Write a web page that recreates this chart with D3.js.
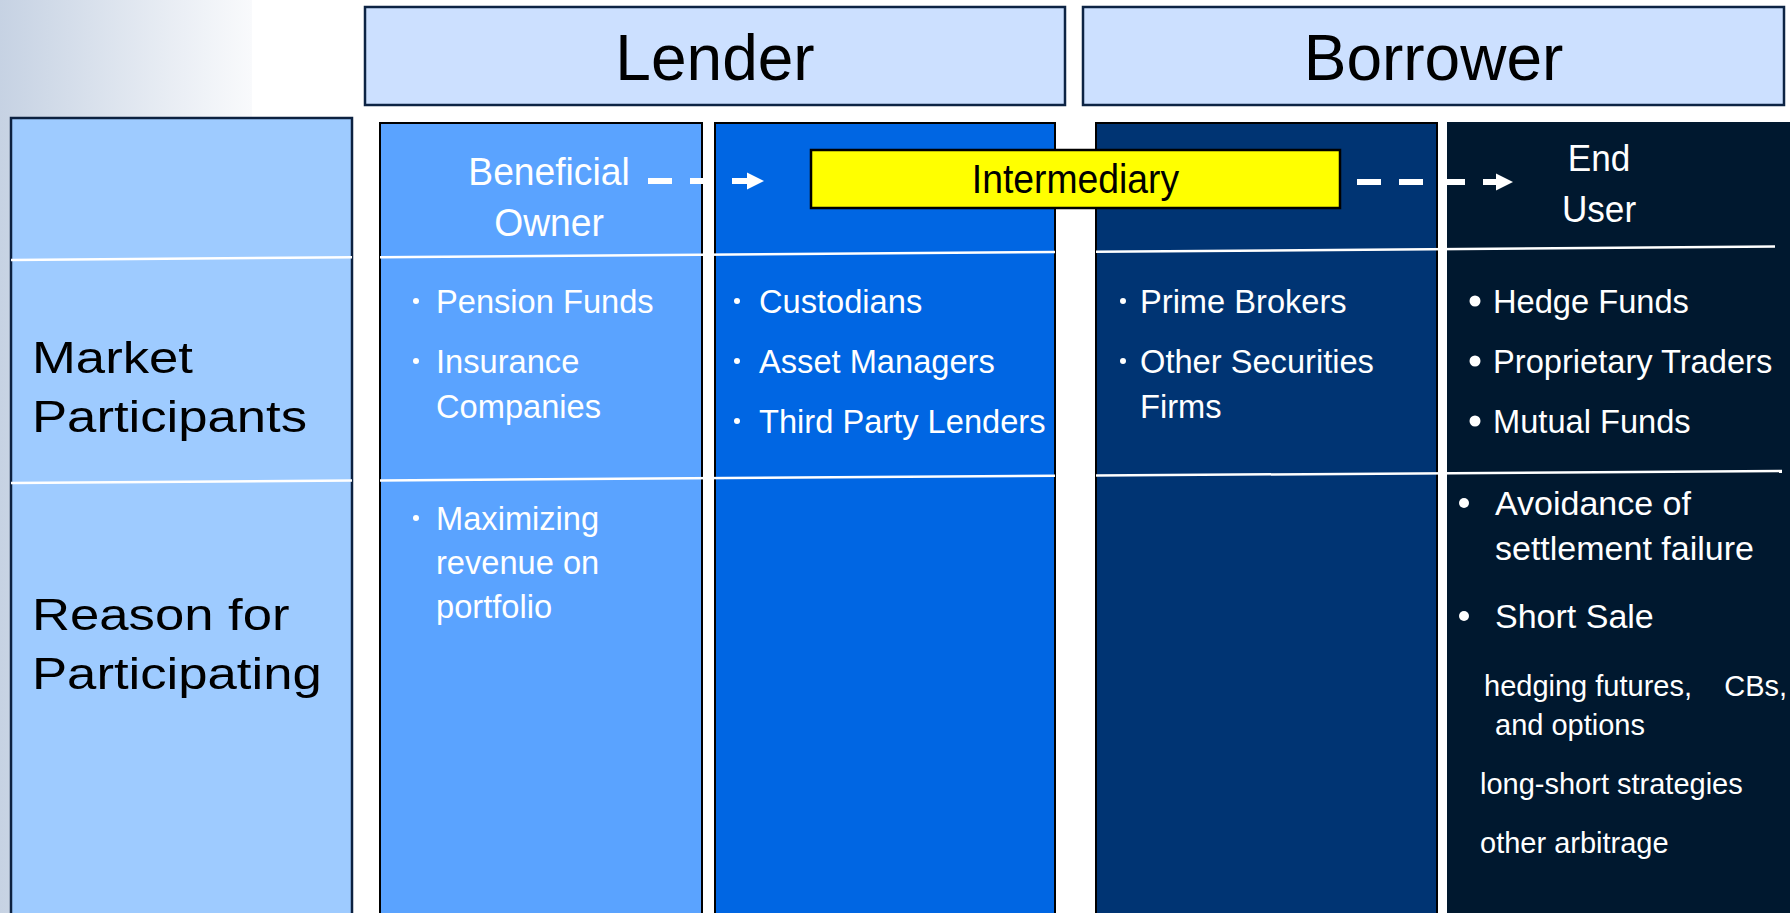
<!DOCTYPE html>
<html>
<head>
<meta charset="utf-8">
<script src="https://cdn.jsdelivr.net/npm/d3@7"></script>
<style>
  body { margin: 0; background: #fff; }
  svg { display: block; font-family: 'Liberation Sans', Arial, sans-serif; }
  text { white-space: pre; }
</style>
</head>
<body>
<div id="chart"></div>
<script>
// content of the slide
const groups = ['Lender', 'Borrower']
const rowKeys = ['head', 'market', 'reason', 'end']
const rowLabels = [['Market', 'Participants'], ['Reason for', 'Participating']]
const columnKeys = ['owner', 'intermediary', 'broker', 'endUser']
const columnTitles = [['Beneficial', 'Owner'], [], [], ['End', 'User']]
const intermediaryLabel = 'Intermediary'
const participants = [
  [['Pension Funds'], ['Insurance', 'Companies']],
  [['Custodians'], ['Asset Managers'], ['Third Party Lenders']],
  [['Prime Brokers'], ['Other Securities', 'Firms']],
  [['Hedge Funds'], ['Proprietary Traders'], ['Mutual Funds']]
]
const reasons = [
  [['Maximizing', 'revenue on', 'portfolio']],
  [],
  [],
  [['Avoidance of', 'settlement failure'], ['Short Sale']]
]
const shortSaleUses = [['hedging futures,    CBs,', 'and options'], ['long-short strategies'], ['other arbitrage']]

const fills = ['#5aa3ff', '#0066e3', '#003473', '#00182f']

const width = 1790
const height = 913

const svg = d3.select('#chart')
  .append('svg')
  .attr('width', width)
  .attr('height', height)

// layout scales
const groupX = d3.scaleOrdinal().domain(groups).range([365, 1083])
const groupW = d3.scaleOrdinal().domain(groups).range([700, 701])
const colX = d3.scaleOrdinal().domain(columnKeys).range([380, 715, 1096, 1448])
const colW = d3.scaleOrdinal().domain(columnKeys).range([322, 340, 341, 345])
const rowY = d3.scaleOrdinal().domain(rowKeys).range([123, 258, 481, 913])
// divider lines are slightly tilted on the original slide
const tilt = d3.scaleLinear().domain([0, width]).range([0, -13.5])

const defs = svg.append('defs')
const grad = defs.append('linearGradient').attr('id', 'bg').attr('x1', 0).attr('x2', 1).attr('y1', 0).attr('y2', 0)
grad.append('stop').attr('offset', 0).attr('stop-color', '#c6d2e3')
grad.append('stop').attr('offset', 1).attr('stop-color', '#f9fafc')

svg.append('rect').attr('x', 0).attr('y', 0).attr('width', 252).attr('height', height).attr('fill', 'url(#bg)')

const addText = (sel, { x, y, text, size, sx = 1, fill = '#fff', anchor = 'start' }) =>
  sel.append('text')
    .attr('transform', `translate(${x},${y}) scale(${sx},1)`)
    .attr('font-size', size)
    .attr('fill', fill)
    .attr('text-anchor', anchor)
    .text(text)

// row label box
svg.append('rect')
  .attr('x', 11).attr('y', 118)
  .attr('width', 341).attr('height', height - 118 + 5)
  .attr('fill', '#9ecbff')
  .attr('stroke', '#0c2140')
  .attr('stroke-width', 2.5)

// group headers
svg.selectAll('.group')
  .data(groups)
  .enter()
  .append('rect')
  .attr('class', 'group')
  .attr('x', (d) => groupX(d))
  .attr('y', 7)
  .attr('width', (d) => groupW(d))
  .attr('height', 98)
  .attr('fill', '#cce0ff')
  .attr('stroke', '#0d2444')
  .attr('stroke-width', 2.5)

groups.forEach((g) => {
  addText(svg, { x: groupX(g) + groupW(g) / 2, y: 80, text: g, size: 64, fill: '#000', anchor: 'middle' })
})

// columns
svg.selectAll('.col')
  .data(columnKeys)
  .enter()
  .append('rect')
  .attr('class', 'col')
  .attr('x', (d) => colX(d))
  .attr('y', rowY('head'))
  .attr('width', (d) => colW(d))
  .attr('height', height - rowY('head') + 5)
  .attr('fill', (d, i) => fills[i])
  .attr('stroke', (d, i) => (i < 3 ? '#000' : fills[i]))
  .attr('stroke-width', 2)

// white row dividers
const segments = [[11, 352], [colX('owner'), colX('intermediary') + colW('intermediary')], [colX('broker'), 1775]]
;[rowY('market'), rowY('reason')].forEach((ry, k) => {
  segments.forEach(([x0, x1], j) => {
    const end = k === 1 && j === 2 ? 1782 : x1
    svg.append('line')
      .attr('x1', x0).attr('y1', ry + 2 + tilt(x0) * (k ? 0.9 : 1))
      .attr('x2', end).attr('y2', ry + 2 + tilt(end) * (k ? 0.9 : 1))
      .attr('stroke', '#fff')
      .attr('stroke-width', 2.5)
  })
})

// row labels
rowLabels.forEach((lines, i) => {
  const base = i === 0 ? 373 : 630
  lines.forEach((t, k) => {
    addText(svg, { x: 32, y: base + k * 59, text: t, size: 45, sx: 1.17, fill: '#000' })
  })
})

// intermediary box
const boxX0 = colX('intermediary') + 96
const boxX1 = colX('broker') + 244
svg.append('rect')
  .attr('x', boxX0).attr('y', rowY('head') + 27)
  .attr('width', boxX1 - boxX0).attr('height', 58)
  .attr('fill', '#ffff00')
  .attr('stroke', '#000')
  .attr('stroke-width', 2.5)
addText(svg, { x: (boxX0 + boxX1) / 2, y: 193, text: intermediaryLabel, size: 41, sx: 0.91, fill: '#000', anchor: 'middle' })

// dashed arrows
const arrows = [
  { x0: colX('owner') + 268, x1: colX('intermediary') + 49, y: 181 },
  { x0: colX('broker') + 261, x1: colX('endUser') + 65, y: 182 }
]
arrows.forEach((a) => {
  svg.append('line')
    .attr('x1', a.x0).attr('y1', a.y)
    .attr('x2', a.x1 - 14).attr('y2', a.y)
    .attr('stroke', '#fff')
    .attr('stroke-width', 6)
    .attr('stroke-dasharray', '24 18')
  svg.append('path')
    .attr('d', `M${a.x1},${a.y}L${a.x1 - 17},${a.y - 8.5}L${a.x1 - 17},${a.y + 8.5}Z`)
    .attr('fill', '#fff')
})

// column titles
const titleStyle = [
  { dx: 169, base: 185, size: 38, sx: 0.98 },
  null,
  null,
  { dx: 151, base: 171, size: 37, sx: 0.95 }
]
columnTitles.forEach((lines, i) => {
  const s = titleStyle[i]
  lines.forEach((t, k) => {
    addText(svg, { x: colX(columnKeys[i]) + s.dx, y: s.base + k * 51, text: t, size: s.size, sx: s.sx, anchor: 'middle' })
  })
})

// bulleted lists
const drawList = (items, key, st) => {
  let y = st.first
  items.forEach((lines) => {
    svg.append('circle')
      .attr('cx', colX(key) + st.bulletDx)
      .attr('cy', y - 12)
      .attr('r', st.r)
      .attr('fill', '#fff')
    lines.forEach((t, k) => {
      addText(svg, { x: colX(key) + st.textDx, y: y + k * st.lineStep, text: t, size: st.size, sx: st.sx })
    })
    y += (lines.length - 1) * st.lineStep + st.itemStep
  })
  return y
}

const marketStyle = [
  { bulletDx: 36, textDx: 56, r: 3 },
  { bulletDx: 22, textDx: 44, r: 3 },
  { bulletDx: 27, textDx: 44, r: 3 },
  { bulletDx: 27, textDx: 45, r: 5.5 }
]
participants.forEach((items, i) => {
  drawList(items, columnKeys[i], {
    ...marketStyle[i],
    first: rowY('market') + 55,
    lineStep: 45,
    itemStep: 60,
    size: 34,
    sx: 0.96
  })
})

const reasonStyle = [
  { bulletDx: 36, textDx: 56, r: 3, first: 49, lineStep: 44, itemStep: 60, size: 34, sx: 0.96 },
  null,
  null,
  { bulletDx: 16, textDx: 47, r: 5, first: 34, lineStep: 45, itemStep: 68, size: 34, sx: 1 }
]
reasons.forEach((items, i) => {
  if (!items.length) return
  const st = { ...reasonStyle[i], first: rowY('reason') + reasonStyle[i].first }
  const next = drawList(items, columnKeys[i], st)
  if (columnKeys[i] === 'endUser') {
    let y = next
    shortSaleUses.forEach((lines, j) => {
      lines.forEach((t, k) => {
        const dx = j === 0 ? (k === 0 ? 36 : 47) : 32
        addText(svg, { x: colX('endUser') + dx, y: y + k * 39, text: t, size: 29 })
      })
      y += (lines.length - 1) * 39 + 59
    })
  }
})
</script>
</body>
</html>
